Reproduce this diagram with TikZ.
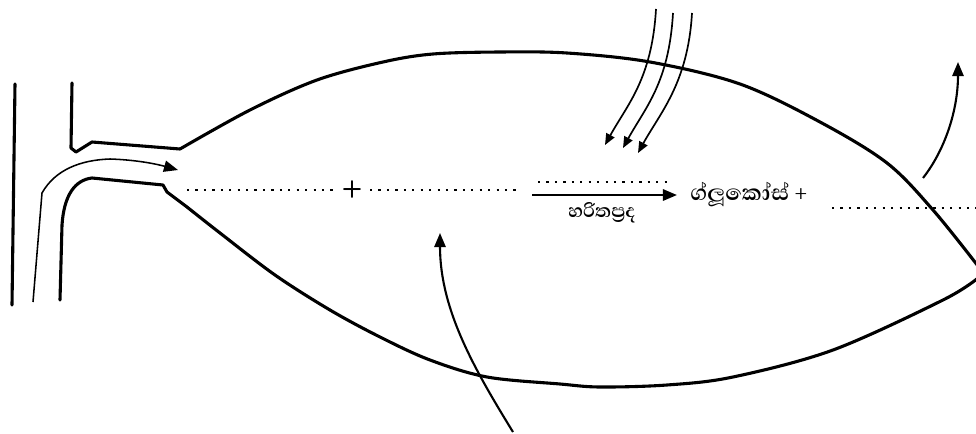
\documentclass[tikz,border=0pt]{standalone}
\usepackage{fontspec}
\newfontfamily\sinhala[Script=Sinhala]{Abhaya Libre}
\usetikzlibrary{arrows.meta}

\begin{document}
\begin{tikzpicture}[x=0.025cm,y=-0.025cm,
  outline/.style={line width=2.2pt,line join=round,line cap=round},
  flow/.style={line width=1.5pt,-{Triangle[length=10pt,width=8pt]}},
  ray/.style={line width=1.2pt,-{Triangle[length=8pt,width=6.5pt]}},
  blank/.style={line width=2pt,dash pattern=on 1.6pt off 4.4pt},
  word/.style={font=\sinhala\bfseries\fontsize{20}{22}\selectfont,inner sep=0pt}
]
\useasboundingbox (0,0) rectangle (976,434);

% stem
\draw[outline] (15,84) -- (12,305);
\draw[outline] (72,83) -- (71,148) -- (76,152) -- (92,142) -- (180,149);
\draw[outline] (60,300) -- (62,225) .. controls (64,195) and (75,180) .. (92,178)
  -- (163,185) -- (167,192) -- (187,207);

% leaf blade
\draw[outline] plot[smooth,tension=0.55] coordinates {(180,149) (250,110) (317,80)
  (383,62) (433,54) (500,52) (567,53) (650,62) (740,84) (820,122) (887,163)
  (933,210) (978,266)};
\draw[outline] plot[smooth,tension=0.55] coordinates {(187,207) (220,233) (275,275)
  (330,310) (380,337) (430,360) (487,377) (560,384) (600,387) (667,385) (733,377)
  (833,350) (943,300) (978,278)};

% water up the stem
\coordinate (stem) at (33,302);
\coordinate (inlet) at (178,170);
\draw[flow,line width=1.1pt] (stem) -- (42,193) .. controls (55,170) and (80,160) .. (110,159)
  .. controls (140,160) and (160,165) .. (inlet);

% light
\foreach \sx/\sy/\ex/\ey [count=\i] in {656/9/605/145, 673/13/623/148, 692/13/638/153}{
  \coordinate (sun\i) at (\sx,\sy);
  \coordinate (hit\i) at (\ex,\ey);
  \draw[ray] (sun\i) .. controls +(-4,70) and +(22,-40) .. (hit\i);
}

% gases
\coordinate (airin) at (513,432);
\coordinate (intake) at (440,233);
\draw[flow] (airin) .. controls (475,370) and (440,310) .. (intake);
\coordinate (leave) at (923,178);
\coordinate (airout) at (958,62);
\draw[flow] (leave) .. controls (945,150) and (958,110) .. (airout);

% equation
\coordinate (b1a) at (187,190);
\coordinate (b1b) at (335,190);
\coordinate (b2a) at (370,190);
\coordinate (b2b) at (520,190);
\coordinate (b3a) at (538,182);
\coordinate (b3b) at (668,182);
\coordinate (b4a) at (832,208);
\coordinate (b4b) at (976,208);
\draw[blank] (b1a) -- (b1b);
\draw[blank] (b2a) -- (b2b);
\draw[blank] (b3a) -- (b3b);
\draw[blank] (b4a) -- (b4b);
\node[word,font=\sffamily\bfseries\fontsize{17}{19}\selectfont] (plus) at (352,190) {+};
\coordinate (react) at (532,195);
\coordinate (yield) at (677,195);
\draw[flow,line width=1.6pt] (react) -- (yield);
\node[word,font=\sinhala\bfseries\fontsize{17}{19}\selectfont] (chl) at (602,213) {හරිතප්^^^^200dරද};
\node[word,anchor=west] (glucose) at (690,195) {ග්ලූකෝස් +};
\end{tikzpicture}
\end{document}
